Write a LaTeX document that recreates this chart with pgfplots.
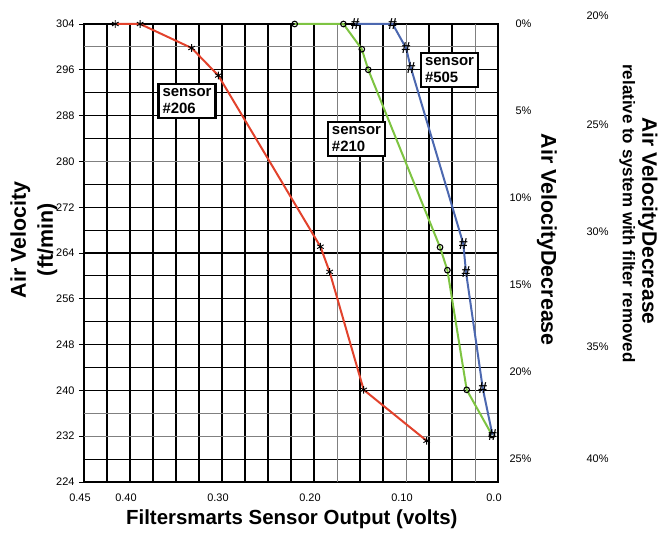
\documentclass[border=0pt]{standalone}
\usepackage{fontspec}
\setmainfont{Liberation Sans}
\usepackage{pgfplots}
\pgfplotsset{compat=1.18}
\definecolor{cred}{RGB}{226,66,44}
\definecolor{cgreen}{RGB}{126,196,66}
\definecolor{cblue}{RGB}{76,104,176}
\newcommand{\tickfont}{\fontsize{11}{13}\selectfont}
\newcommand{\bigfont}{\bfseries\fontsize{21.5}{27}\selectfont}
\begin{document}
\begin{tikzpicture}
\begin{axis}[
  scale only axis, width=414bp, height=458bp,
  x dir=reverse, xmin=0, xmax=0.45, ymin=224, ymax=304,
  clip=false,
  axis line style={line width=1.6pt},
  xtick={0,0.1,0.2,0.3,0.4,0.45},
  xticklabels={0.0,0.10,0.20,0.30,0.40,0.45},
  ytick={224,232,...,304},
  xtick style={draw=none},
  ytick style={line width=0.8pt, black},
  tick align=outside, major tick length=5bp, ytick pos=left, xtick pos=bottom,
  minor xtick={0.05,0.075,0.125,0.15,0.2,0.225,0.25,0.275,0.3,0.325,0.35,0.375,0.4,0.425},
  minor ytick={228,240,244,248,252,256,260,264,268,272,276,284,288,292,296},
  minor tick length=0pt,
  xminorgrids, yminorgrids,
  minor grid style={black, line width=1.2pt},
  extra x ticks={0.025,0.1,0.175},
  extra x tick labels={},
  extra x tick style={grid=major, major grid style={black!50, line width=0.9pt}},
  extra y ticks={232,236,280,300},
  extra y tick labels={},
  extra y tick style={grid=major, major grid style={black!50, line width=0.9pt}, major tick length=0pt},
  /pgf/number format/assume math mode=true,
  tick label style={font=\tickfont},
  xticklabel style={xshift=-4bp, yshift=-3bp},
  yticklabel style={xshift=-1bp},
]
% sensor #206
\addplot[cred, line width=2bp, mark=asterisk, mark size=3.8bp, mark options={black, line width=0.9pt}]
  coordinates {(0.416,304)(0.389,304)(0.333,299.8)(0.304,295)(0.193,265.1)(0.183,260.7)(0.146,240.1)(0.0775,231.2)};
% sensor #210
\addplot[cgreen, line width=2bp, mark=o, mark size=2.8bp, mark options={black, line width=1.1pt}]
  coordinates {(0.221,304)(0.168,304)(0.148,299.6)(0.141,296)(0.063,265)(0.055,261)(0.034,240.1)(0.0065,232.2)};
% sensor #505
\addplot[cblue, line width=2bp, mark=text, text mark={\#}, text mark as node=true,
  text mark style={font=\bfseries\fontsize{16}{16}\selectfont, text=black, inner sep=0pt}]
  coordinates {(0.155,304)(0.1145,304)(0.100,299.8)(0.0946,296.3)(0.0377,265.6)(0.0348,260.7)(0.0166,240.4)(0.006,232.2)};
\node[draw, line width=2.2bp, fill=white, align=left, font=\bfseries\fontsize{15}{17}\selectfont, inner xsep=4bp, inner ysep=4.5bp] at (axis cs:0.338,290.6) {sensor\\\#206};
\node[draw, line width=2.2bp, fill=white, align=left, font=\bfseries\fontsize{15}{17}\selectfont, inner xsep=4bp, inner ysep=4.5bp] at (axis cs:0.1538,283.9) {sensor\\\#210};
\node[draw, line width=2.2bp, fill=white, align=left, font=\bfseries\fontsize{15}{17}\selectfont, inner xsep=4bp, inner ysep=4.5bp] at (axis cs:0.0527,296.0) {sensor\\\#505};
\end{axis}
\begin{axis}[
  scale only axis, width=414bp, height=458bp,
  xmin=0, xmax=1, ymin=224, ymax=304,
  clip=false,
  hide x axis, axis y line*=right,
  y axis line style={line width=1.6pt},
  ytick={304,288.8,273.6,258.4,243.2,228},
  yticklabels={0\%,5\%,10\%,15\%,20\%,25\%},
  ytick style={draw=none},
  yticklabel style={anchor=east, xshift=37bp, font=\tickfont},
]
\coordinate (SW) at (rel axis cs:0,0);
\coordinate (NE) at (rel axis cs:1,1);
\node[anchor=east, font=\tickfont] at (axis cs:1.2754,305.4) {20\%};
\node[anchor=east, font=\tickfont] at (axis cs:1.2754,286.4) {25\%};
\node[anchor=east, font=\tickfont] at (axis cs:1.2754,267.7) {30\%};
\node[anchor=east, font=\tickfont] at (axis cs:1.2754,247.6) {35\%};
\node[anchor=east, font=\tickfont] at (axis cs:1.2754,228.0) {40\%};
\node[rotate=-90, font=\bigfont] at (axis cs:1.118,266.3) {Air VelocityDecrease};
\node[rotate=-90, font=\bfseries\fontsize{17}{19}\selectfont] at (axis cs:1.312,270.9) {relative to system with filter removed};
\node[rotate=-90, inner sep=0pt, font=\bfseries\fontsize{21}{27}\selectfont] at (axis cs:1.362,269.6) {Air VelocityDecrease};
\node[rotate=90, align=center, font=\bigfont] at (axis cs:-0.121,266.3) {Air Velocity\\(ft/min)};
\node[font=\bfseries\fontsize{20.5}{24}\selectfont] at (axis cs:0.502,217.5) {Filtersmarts Sensor Output (volts)};
\end{axis}
\pgfresetboundingbox
\path ([shift={(-84bp,-51bp)}]SW) rectangle ([shift={(164bp,24bp)}]NE);
\end{tikzpicture}
\end{document}
